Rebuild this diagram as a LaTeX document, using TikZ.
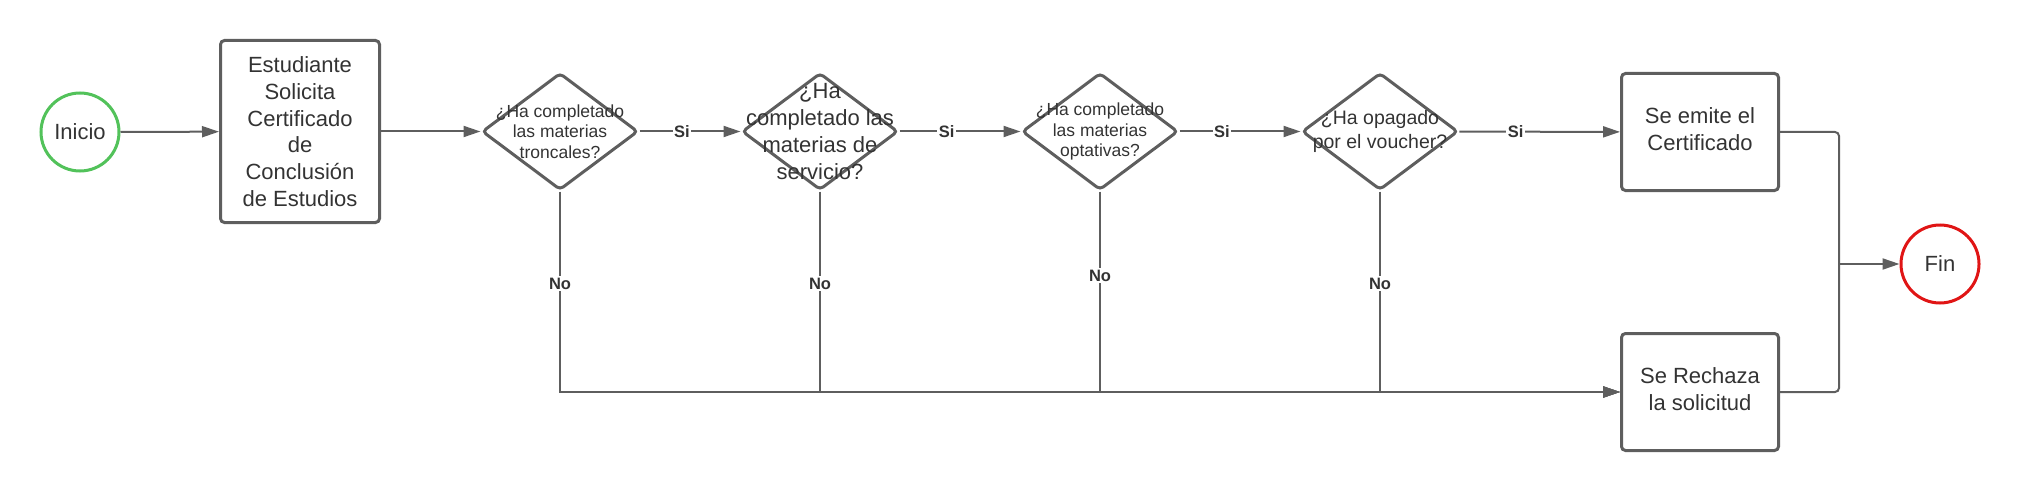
\documentclass[tikz,border=0pt]{standalone}
\usepackage{fontspec}
\setmainfont{Liberation Sans}
\usetikzlibrary{arrows.meta,shapes.geometric}
\definecolor{ln}{HTML}{5E5E5E}
\definecolor{tx}{HTML}{333333}
\definecolor{gr}{HTML}{52C25A}
\definecolor{rd}{HTML}{E01515}
\begin{document}
\begin{tikzpicture}[x=1pt,y=-1pt,
  base/.style={text=tx, font=\fontsize{22}{26.7}\selectfont, align=center},
  term/.style={base, circle, draw, line width=3pt, minimum size=78pt, inner sep=0pt},
  proc/.style={base, rectangle, draw=ln, line width=3pt, rounded corners=4pt, inner sep=0pt},
  dia/.style={diamond, draw=ln, line width=3pt, rounded corners=4pt, minimum width=156pt, minimum height=117pt, inner sep=0pt},
  dsmall/.style={text=tx, align=center, font=\fontsize{17.5}{20.7}\selectfont},
  dbig/.style={text=tx, align=center, font=\fontsize{22}{26.7}\selectfont},
  dmid/.style={text=tx, align=center, font=\fontsize{19.5}{23.3}\selectfont},
  conn/.style={draw=ln, line width=2pt, -{Triangle[length=17pt,width=11pt]}},
  line/.style={draw=ln, line width=2pt, rounded corners=4pt},
  lab/.style={text=tx, font=\bfseries\fontsize{16.5}{20}\selectfont, fill=white, inner sep=1.5pt},
]
\useasboundingbox (0,0) rectangle (2020,492);

\node[term, draw=gr] (ini) at (80,132) {Inicio};
\node[proc, minimum width=159pt, minimum height=182pt] (est) at (300,131.5) {Estudiante\\Solicita\\Certificado\\de\\Conclusión\\de Estudios};

\node[dia] (d1) at (560,131.5) {};
\node[dsmall] (t1) at (d1) {¿Ha completado\\las materias\\troncales?};
\node[dia] (d2) at (820,131.5) {};
\node[dbig] (t2) at (d2) {¿Ha\\completado las\\materias de\\servicio?};
\node[dia] (d3) at (1100,131.5) {};
\node[dsmall] (t3) at (d3) {¿Ha completado\\las materias\\optativas?};
\node[dia] (d4) at (1380,131.5) {};
\node[dmid] (t4) at (d4) {¿Ha opagado\\por el voucher?};

\node[proc, minimum width=157pt, minimum height=117pt] (emi) at (1700,132) {};
\node[base] (temi) at (1700,129) {Se emite el\\Certificado};
\node[proc, minimum width=157pt, minimum height=117pt] (rech) at (1700,392) {};
\node[base] (trech) at (1700,389) {Se Rechaza\\la solicitud};
\node[term, draw=rd] (fin) at (1940,264) {Fin};

\draw[conn] (ini) -- (est);
\draw[conn] (est) -- (d1);
\draw[conn] (d1) -- node[lab,pos=0.42]{Si} (d2);
\draw[conn] (d2) -- node[lab,pos=0.39]{Si} (d3);
\draw[conn] (d3) -- node[lab,pos=0.35]{Si} (d4);
\draw[conn] (d4) -- node[lab,pos=0.35]{Si} (emi);

\draw[conn] (d1.south) |- node[lab,pos=0.23]{No} (rech.west);
\draw[conn] (d2.south) |- node[lab,pos=0.23]{No} (rech.west);
\draw[conn] (d3.south) |- node[lab,pos=0.21]{No} (rech.west);
\draw[conn] (d4.south) |- node[lab,pos=0.23]{No} (rech.west);

\coordinate (m) at (1839,264);
\draw[line] (emi.east) -| (m);
\draw[line] (rech.east) -| (m);
\draw[conn] (m) -- (fin);
\end{tikzpicture}
\end{document}
